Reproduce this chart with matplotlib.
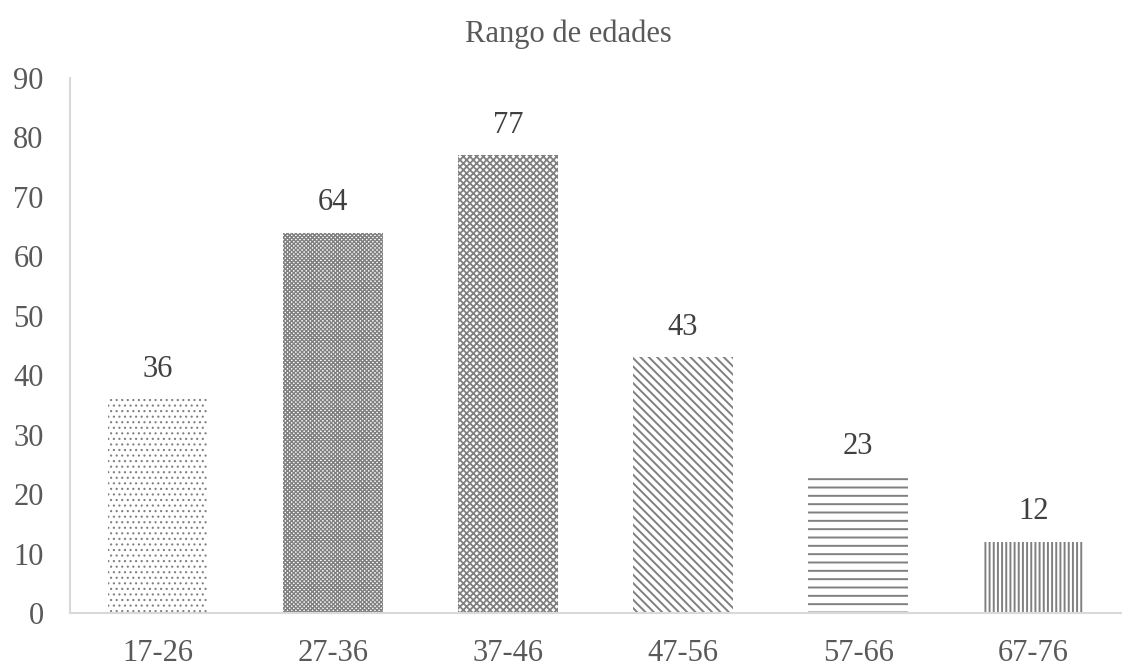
import matplotlib
matplotlib.use("Agg")
import matplotlib.pyplot as plt

categories = ["17-26", "27-36", "37-46", "47-56", "57-66", "67-76"]
values = [36, 64, 77, 43, 23, 12]
hatches = ["...", "xxxxxxxx", "xxxxx", "\\\\\\\\", "--", "||||"]
hatch_lw = [0.8, 1.0, 1.3, 1.4, 1.4, 1.4]

plt.rcParams['font.family'] = ['Liberation Serif', 'DejaVu Serif']
plt.rcParams['hatch.linewidth'] = 1.4

fig = plt.figure(figsize=(11.36, 6.67), dpi=100)
ax = fig.add_axes([0.0616, 0.081, 0.925, 0.802])

x = range(len(categories))
bars = ax.bar(x, values, width=0.57, color="white", edgecolor="#808080",
              linewidth=0)
for b, h, lw in zip(bars, hatches, hatch_lw):
    b.set_hatch(h)
    if hasattr(b, "set_hatch_linewidth"):
        b.set_hatch_linewidth(lw)

for i, v in enumerate(values):
    ax.annotate(str(v), (i, v), xytext=(0, 11), textcoords="offset points",
                ha="center", va="bottom", fontsize=22, color="#404040")

ax.set_xlim(-0.5, len(categories) - 0.5)
ax.set_ylim(0, 90)
ax.set_yticks(range(0, 91, 10))
ax.set_xticks(list(x))
ax.set_xticklabels(categories)
ax.tick_params(axis="both", length=0, labelsize=22, labelcolor="#595959")
ax.tick_params(axis="y", pad=19)
ax.tick_params(axis="x", pad=19)
for s in ["top", "right"]:
    ax.spines[s].set_visible(False)
ax.spines["left"].set_color("#d9d9d9")
ax.spines["bottom"].set_color("#d9d9d9")
ax.spines["left"].set_linewidth(1.5)
ax.spines["bottom"].set_linewidth(1.5)

fig.text(0.5, 0.948, "Rango de edades", ha="center", va="center", fontsize=22, color="#595959")

fig.savefig("out.png", dpi=100)
